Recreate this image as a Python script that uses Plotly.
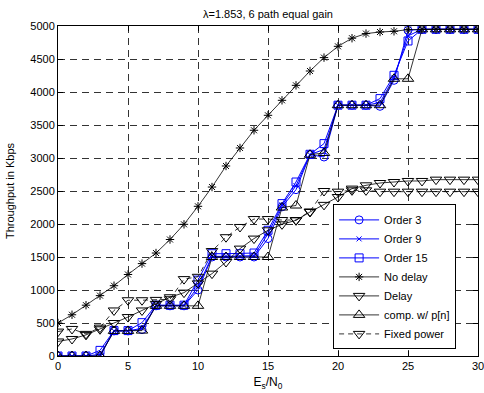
import plotly.graph_objects as go

snr = list(range(0, 31))

order3 = [0, 0, 0, 0, 380, 380, 400, 760, 760, 760, 1000, 1500, 1500, 1500, 1500, 1780,
          2260, 2520, 3050, 3015, 3800, 3800, 3800, 3783, 4177, 4935, 4950, 4950, 4950, 4950, 4950]
order9 = [0, 0, 0, 25, 380, 380, 420, 765, 765, 765, 1050, 1510, 1510, 1510, 1520, 1850,
          2290, 2580, 3050, 3130, 3800, 3800, 3800, 3840, 4220, 4850, 4950, 4950, 4950, 4950, 4950]
order15 = [0, 0, 0, 85, 385, 385, 505, 770, 770, 770, 1150, 1550, 1550, 1550, 1560, 1905,
           2309, 2636, 3056, 3218, 3800, 3800, 3800, 3900, 4253, 4773, 4950, 4950, 4950, 4950, 4950]
no_delay = [500, 625, 770, 915, 1065, 1235, 1400, 1560, 1765, 1995, 2268, 2560, 2879, 3152, 3420,
            3647, 3874, 4101, 4318, 4521, 4692, 4815, 4885, 4909, 4920, 4945, 4950, 4950, 4950, 4950, 4950]
delay = [220, 258, 320, 405, 500, 590, 690, 790, 890, 960, 1100, 1248, 1424, 1627, 1779, 1905,
         1995, 2056, 2182, 2290, 2409, 2536, 2586, 2621, 2636, 2652, 2652, 2672, 2672, 2672, 2672]
comp = [0, 0, 0, 0, 380, 380, 385, 760, 760, 760, 760, 1500, 1500, 1500, 1500, 1500,
        2250, 2280, 3050, 3076, 3800, 3800, 3800, 3800, 4200, 4200, 4950, 4950, 4950, 4950, 4950]
fixed = [370, 410, 335, 430, 690, 845, 845, 850, 860, 1165, 1200, 1590, 1800, 1955, 2075, 2075,
         2060, 2060, 2190, 2500, 2490, 2510, 2510, 2490, 2490, 2490, 2490, 2490, 2490, 2490, 2490]

x_ticks = [0, 5, 10, 15, 20, 25, 30]
y_ticks = list(range(0, 5001, 500))

FONT = "Arial, Liberation Sans, Helvetica, sans-serif"
BLUE = "#0000ff"

fig = go.Figure()

def add(name, y, color, symbol, size, dash="solid", width=1.0):
    fig.add_trace(go.Scatter(
        x=snr, y=y, name=name, mode="lines+markers",
        line=dict(color=color, width=width, dash=dash),
        marker=dict(symbol=symbol, size=size, color=color, line=dict(width=1, color=color)),
    ))

add("Order 3", order3, BLUE, "circle-open", 8)
add("Order 9", order9, BLUE, "x-thin-open", 5)
add("Order 15", order15, BLUE, "square-open", 8)
add("No delay", no_delay, "black", "asterisk-open", 7, width=0.8)
add("Delay", delay, "black", "triangle-down-open", 10, width=0.8)
add("comp. w/ p[n]", comp, "black", "triangle-up-open", 10, width=0.8)
add("Fixed power", fixed, "black", "triangle-down-open", 10, dash="5px,4px", width=0.8)

axis_common = dict(
    showline=True, linecolor="black", linewidth=1, mirror="ticks",
    ticks="inside", ticklen=5, tickcolor="black", tickwidth=1,
    showgrid=True, gridcolor="#333333", gridwidth=1, griddash="7px,5px",
    zeroline=False, tickfont=dict(family=FONT, size=11, color="black"),
    ticklabeloverflow="allow", automargin=False,
)

fig.update_xaxes(range=[0, 30], tickvals=x_ticks, **axis_common,
                 title=dict(text="E<sub>s</sub>/N<sub>0</sub>", font=dict(family=FONT, size=12, color="black"),
                            standoff=6))
fig.update_yaxes(range=[0, 5000], tickvals=y_ticks, **axis_common,
                 title=dict(text="Throughput in Kbps", font=dict(family=FONT, size=11, color="black"),
                            standoff=13))

fig.update_layout(
    width=484, height=393,
    margin=dict(l=58, r=6, t=26, b=37, autoexpand=False),
    paper_bgcolor="white", plot_bgcolor="white",
    title=dict(text="λ=1.853, 6 path equal gain", x=(58 + 478) / 2 / 484, xanchor="center",
               y=1 - 14 / 393, yanchor="middle", font=dict(family=FONT, size=11, color="black")),
    legend=dict(x=0.655, y=0.02, xanchor="left", yanchor="bottom",
                bgcolor="white", bordercolor="black", borderwidth=1,
                font=dict(family=FONT, size=11, color="black"),
                tracegroupgap=0, itemwidth=40),
    showlegend=True,
)

fig.write_html("out.html")
